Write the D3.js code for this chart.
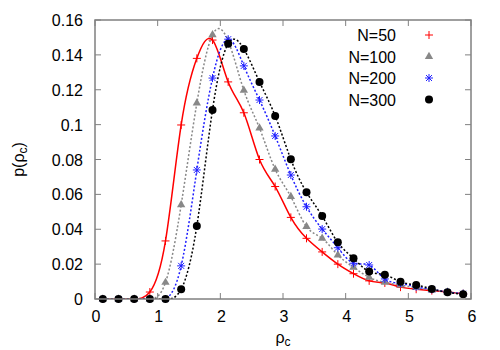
<!DOCTYPE html>
<html>
<head>
<meta charset="utf-8">
<script src="https://cdn.jsdelivr.net/npm/d3@7"></script>
<style>
  body { margin: 0; background: #fff; }
  text { font-family: "Liberation Sans", Arial, sans-serif; }
</style>
</head>
<body>
<div id="chart"></div>
<script>
// bin centres on rho_c
var xs = [0.125, 0.375, 0.625, 0.875, 1.125, 1.375, 1.625, 1.875, 2.125, 2.375, 2.625, 2.875,
          3.125, 3.375, 3.625, 3.875, 4.125, 4.375, 4.625, 4.875, 5.125, 5.375, 5.625, 5.875];

var n50  = [0, 0, 0, 0.004, 0.0333, 0.0998, 0.138, 0.1485, 0.1245, 0.1068, 0.080, 0.0645,
            0.0468, 0.0348, 0.027, 0.020, 0.0145, 0.0104, 0.0092, 0.0068, 0.0056, 0.0048, 0.004, 0.003];
var n100 = [0, 0, 0, 0, 0.0095, 0.054, 0.1123, 0.1515, 0.148, 0.1197, 0.098, 0.0744,
            0.0587, 0.0415, 0.0348, 0.0252, 0.0182, 0.0124, 0.0095, 0.008, 0.0065, 0.0052, 0.004, 0.003];
var n200 = [0, 0, 0, 0, 0, 0.019, 0.074, 0.1267, 0.149, 0.1337, 0.1141, 0.0935,
            0.0711, 0.0529, 0.0401, 0.0294, 0.0205, 0.0195, 0.0115, 0.009, 0.007, 0.0055, 0.004, 0.003];
var n300 = [0, 0, 0, 0, 0, 0.0056, 0.0419, 0.1084, 0.1464, 0.1434, 0.1245, 0.105,
            0.0801, 0.0612, 0.0476, 0.0325, 0.0233, 0.0157, 0.0139, 0.0099, 0.008, 0.0058, 0.0038, 0.0027];

var labels = ["N=50", "N=100", "N=200", "N=300"];
var xTicks = [0, 1, 2, 3, 4, 5, 6];
var yTicks = [0, 0.02, 0.04, 0.06, 0.08, 0.1, 0.12, 0.14, 0.16];

var w = 500, h = 350,
  pLeft = 95, pRight = 471, pTop = 20, pBottom = 299,
  fs = 16,
  frameColor = "#808080";

var svg = d3.select("#chart").append("svg")
  .attr("width", w)
  .attr("height", h);

var x = d3.scaleLinear().domain([0, 6]).range([pLeft, pRight]);
var y = d3.scaleLinear().domain([0, 0.16]).range([pBottom, pTop]);

svg.append("defs").append("clipPath")
    .attr("id", "plotclip")
  .append("rect")
    .attr("x", pLeft).attr("y", pTop)
    .attr("width", pRight - pLeft).attr("height", pBottom - pTop);

// ticks, inward and mirrored like gnuplot
var tickLen = 6;
var ticks = svg.append("g").attr("stroke", frameColor).attr("stroke-width", 1);
xTicks.forEach(function(t){
  ticks.append("line").attr("x1", x(t)).attr("x2", x(t)).attr("y1", pBottom).attr("y2", pBottom - tickLen);
  ticks.append("line").attr("x1", x(t)).attr("x2", x(t)).attr("y1", pTop).attr("y2", pTop + tickLen);
});
yTicks.forEach(function(t){
  ticks.append("line").attr("x1", pLeft).attr("x2", pLeft + tickLen).attr("y1", y(t)).attr("y2", y(t));
  ticks.append("line").attr("x1", pRight).attr("x2", pRight - tickLen).attr("y1", y(t)).attr("y2", y(t));
});

svg.append("g").selectAll("text")
  .data(xTicks)
  .enter().append("text")
    .attr("x", function(d){ return x(d) + 1; })
    .attr("y", pBottom + 23)
    .attr("text-anchor", "middle")
    .attr("font-size", fs)
    .text(function(d){ return d; });

svg.append("g").selectAll("text")
  .data(yTicks)
  .enter().append("text")
    .attr("x", pLeft - 12)
    .attr("y", function(d){ return y(d) + 6; })
    .attr("text-anchor", "end")
    .attr("font-size", fs)
    .text(function(d){ return d; });

// axis titles
var yl = svg.append("text")
  .attr("transform", "translate(24," + ((pTop + pBottom) / 2) + ") rotate(-90)")
  .attr("text-anchor", "middle")
  .attr("font-size", fs);
yl.append("tspan").text("p(\u03c1");
yl.append("tspan").attr("font-size", 12).attr("dy", 3).text("c");
yl.append("tspan").attr("dy", -3).text(")");

var xl = svg.append("text")
  .attr("x", (pLeft + pRight) / 2)
  .attr("y", 343)
  .attr("text-anchor", "middle")
  .attr("font-size", fs);
xl.append("tspan").text("\u03c1");
xl.append("tspan").attr("font-size", 12).attr("dy", 3).text("c");

// series
var series = [
  {name: labels[0], vals: n50,  color: "#ff0000", dash: null,  mark: "plus"},
  {name: labels[1], vals: n100, color: "#888888", dash: "2,2", mark: "tri"},
  {name: labels[2], vals: n200, color: "#2020ff", dash: "2,2", mark: "star"},
  {name: labels[3], vals: n300, color: "#000000", dash: "2,2", mark: "dot"}
];

var line = d3.line()
  .x(function(d){ return x(d[0]); })
  .y(function(d){ return y(d[1]); })
  .curve(d3.curveNatural);

function drawMark(g, kind, cx, cy, color){
  if(kind == "plus"){
    g.append("path")
      .attr("d", "M" + (cx - 4) + "," + cy + "h8M" + cx + "," + (cy - 4) + "v8")
      .attr("stroke", color).attr("stroke-width", 1).attr("fill", "none");
  }
  else if(kind == "tri"){
    g.append("path")
      .attr("transform", "translate(" + cx + "," + cy + ")")
      .attr("d", d3.symbol().type(d3.symbolTriangle).size(30)())
      .attr("fill", color);
  }
  else if(kind == "star"){
    g.append("path")
      .attr("d", "M" + (cx - 4) + "," + cy + "h8M" + cx + "," + (cy - 4) + "v8" +
                 "M" + (cx - 3) + "," + (cy - 3) + "l6,6M" + (cx - 3) + "," + (cy + 3) + "l6,-6")
      .attr("stroke", color).attr("stroke-width", 1).attr("fill", "none");
  }
  else {
    g.append("circle").attr("cx", cx).attr("cy", cy).attr("r", 4).attr("fill", color);
  }
}

series.forEach(function(s){
  var pts = xs.map(function(v, i){ return [v, s.vals[i]]; });
  svg.append("path")
    .datum(pts)
    .attr("clip-path", "url(#plotclip)")
    .attr("d", line)
    .attr("fill", "none")
    .attr("stroke", s.color)
    .attr("stroke-width", 1.5)
    .attr("stroke-dasharray", s.dash);
  var g = svg.append("g");
  pts.forEach(function(p){ drawMark(g, s.mark, x(p[0]), y(p[1]), s.color); });
});

// legend, points only
series.forEach(function(s, i){
  var ly = 35 + i * 21.5;
  svg.append("text")
    .attr("x", 396)
    .attr("y", ly + 6)
    .attr("text-anchor", "end")
    .attr("font-size", fs)
    .text(s.name);
  drawMark(svg.append("g"), s.mark, 429, ly, s.color);
});

// frame
svg.append("rect")
  .attr("x", pLeft).attr("y", pTop)
  .attr("width", pRight - pLeft).attr("height", pBottom - pTop)
  .attr("fill", "none")
  .attr("stroke", frameColor)
  .attr("stroke-width", 1.5);
</script>
</body>
</html>
